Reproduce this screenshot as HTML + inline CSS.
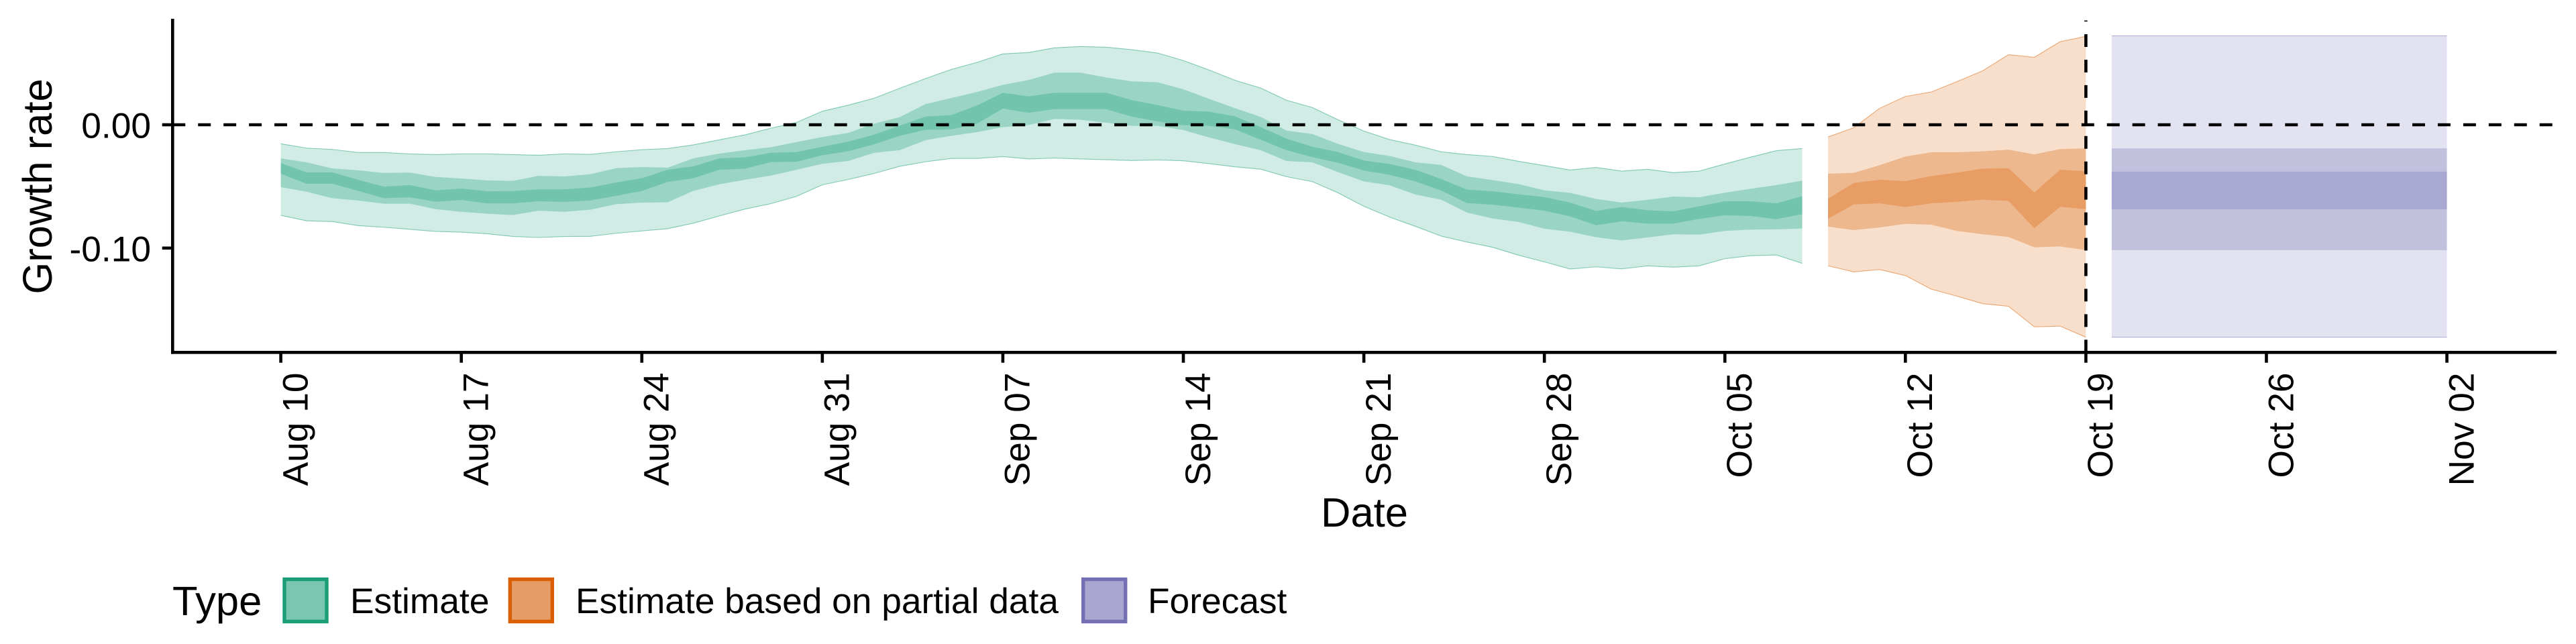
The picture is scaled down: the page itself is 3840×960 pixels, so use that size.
<!DOCTYPE html>
<html lang="en">
<head>
<meta charset="utf-8">
<title>Growth rate estimate and forecast</title>
<style>
html,body{margin:0;padding:0;background:#fff;}
svg{display:block;font-family:"Liberation Sans",sans-serif;}
</style>
</head>
<body>
<svg id="chart" xmlns="http://www.w3.org/2000/svg" width="3840" height="960" viewBox="0 0 3840 960">
  <rect x="0" y="0" width="3840" height="960" fill="#ffffff"/>
  <g id="marks"></g>
  <g id="axes"></g>
  <text transform="translate(77,278) rotate(-90)" text-anchor="middle" font-size="61.5" fill="#000">Growth rate</text>
  <text x="2034" y="785" text-anchor="middle" font-size="61.5" fill="#000">Date</text>
  <g>
    <text x="257" y="917" font-size="61.5" fill="#000">Type</text>
    <g>
      <rect x="424" y="863.5" width="63" height="63" fill="#7AC6AF" stroke="#1B9E77" stroke-width="5.4"/>
      <text x="522" y="914" font-size="53.3" fill="#000">Estimate</text>
    </g>
    <g>
      <rect x="760.3" y="863.5" width="63" height="63" fill="#E69C66" stroke="#D95F02" stroke-width="5.4"/>
      <text x="858" y="914" font-size="53.3" fill="#000">Estimate based on partial data</text>
    </g>
    <g>
      <rect x="1614.7" y="863.5" width="63" height="63" fill="#A9A6CF" stroke="#7570B3" stroke-width="5.4"/>
      <text x="1711" y="914" font-size="53.3" fill="#000">Forecast</text>
    </g>
  </g>
</svg>
<script>
// Day offsets are counted from the first estimate date, Aug 10.
const xTickDays = [0, 7, 14, 21, 28, 35, 42, 49, 56, 63, 70, 77, 84];
const xTickLabels = ["Aug 10", "Aug 17", "Aug 24", "Aug 31", "Sep 07", "Sep 14", "Sep 21", "Sep 28", "Oct 05", "Oct 12", "Oct 19", "Oct 26", "Nov 02"];
const yTickValues = [0, -0.1];
const yTickLabels = ["0.00", "-0.10"];
const referenceRate = 0;
const referenceDay = 70;

const estimateStartDay = 0;
const estimateUpper90 = [-0.0154,-0.0189,-0.0200,-0.0225,-0.0225,-0.0236,-0.0242,-0.0236,-0.0236,-0.0242,-0.0247,-0.0236,-0.0240,-0.0219,-0.0202,-0.0193,-0.0163,-0.0122,-0.0082,-0.0028,0.0019,0.0110,0.0159,0.0215,0.0296,0.0375,0.0449,0.0506,0.0575,0.0586,0.0624,0.0635,0.0629,0.0609,0.0582,0.0521,0.0444,0.0361,0.0298,0.0199,0.0140,0.0041,-0.0051,-0.0120,-0.0165,-0.0219,-0.0242,-0.0257,-0.0296,-0.0331,-0.0367,-0.0346,-0.0376,-0.0361,-0.0388,-0.0376,-0.0318,-0.0262,-0.0210,-0.0193];
const estimateUpper50 = [-0.0273,-0.0305,-0.0354,-0.0369,-0.0391,-0.0388,-0.0423,-0.0436,-0.0451,-0.0455,-0.0414,-0.0419,-0.0401,-0.0352,-0.0343,-0.0348,-0.0272,-0.0234,-0.0206,-0.0182,-0.0140,-0.0099,-0.0066,0.0009,0.0062,0.0167,0.0217,0.0266,0.0324,0.0363,0.0423,0.0423,0.0384,0.0352,0.0345,0.0288,0.0210,0.0135,0.0064,-0.0047,-0.0075,-0.0155,-0.0221,-0.0253,-0.0305,-0.0326,-0.0418,-0.0449,-0.0481,-0.0532,-0.0552,-0.0601,-0.0631,-0.0609,-0.0582,-0.0588,-0.0551,-0.0519,-0.0489,-0.0453];
const estimateUpper20 = [-0.0311,-0.0386,-0.0386,-0.0446,-0.0502,-0.0489,-0.0532,-0.0517,-0.0539,-0.0537,-0.0524,-0.0524,-0.0509,-0.0468,-0.0434,-0.0365,-0.0337,-0.0273,-0.0264,-0.0227,-0.0221,-0.0178,-0.0137,-0.0081,-0.0006,0.0067,0.0079,0.0157,0.0260,0.0230,0.0260,0.0260,0.0260,0.0200,0.0159,0.0114,0.0107,0.0069,-0.0019,-0.0112,-0.0178,-0.0221,-0.0290,-0.0318,-0.0365,-0.0440,-0.0526,-0.0539,-0.0564,-0.0586,-0.0631,-0.0699,-0.0667,-0.0693,-0.0702,-0.0661,-0.0620,-0.0620,-0.0637,-0.0579];
const estimateLower20 = [-0.0397,-0.0479,-0.0479,-0.0536,-0.0596,-0.0588,-0.0624,-0.0610,-0.0637,-0.0637,-0.0620,-0.0625,-0.0614,-0.0577,-0.0537,-0.0463,-0.0434,-0.0365,-0.0356,-0.0303,-0.0300,-0.0247,-0.0215,-0.0159,-0.0090,-0.0041,-0.0037,0.0009,0.0131,0.0097,0.0127,0.0127,0.0127,0.0066,0.0028,-0.0004,-0.0009,-0.0037,-0.0122,-0.0206,-0.0262,-0.0309,-0.0371,-0.0406,-0.0459,-0.0534,-0.0635,-0.0648,-0.0672,-0.0697,-0.0743,-0.0815,-0.0783,-0.0802,-0.0802,-0.0764,-0.0734,-0.0740,-0.0766,-0.0725];
const estimateLower50 = [-0.0506,-0.0543,-0.0596,-0.0614,-0.0640,-0.0640,-0.0684,-0.0706,-0.0721,-0.0732,-0.0697,-0.0706,-0.0689,-0.0644,-0.0631,-0.0629,-0.0536,-0.0483,-0.0446,-0.0412,-0.0365,-0.0316,-0.0294,-0.0228,-0.0206,-0.0125,-0.0090,-0.0060,-0.0019,-0.0002,0.0047,0.0041,0.0017,-0.0009,-0.0009,-0.0043,-0.0103,-0.0157,-0.0206,-0.0294,-0.0305,-0.0384,-0.0459,-0.0491,-0.0566,-0.0607,-0.0712,-0.0760,-0.0788,-0.0843,-0.0867,-0.0912,-0.0938,-0.0914,-0.0888,-0.0891,-0.0861,-0.0850,-0.0848,-0.0841];
const estimateLower90 = [-0.0734,-0.0779,-0.0785,-0.0818,-0.0831,-0.0848,-0.0865,-0.0871,-0.0884,-0.0906,-0.0914,-0.0906,-0.0905,-0.0880,-0.0861,-0.0843,-0.0798,-0.0740,-0.0684,-0.0640,-0.0581,-0.0487,-0.0444,-0.0395,-0.0337,-0.0300,-0.0273,-0.0273,-0.0258,-0.0277,-0.0270,-0.0277,-0.0283,-0.0290,-0.0285,-0.0292,-0.0315,-0.0341,-0.0360,-0.0421,-0.0461,-0.0552,-0.0661,-0.0749,-0.0824,-0.0903,-0.0951,-0.0994,-0.1058,-0.1112,-0.1170,-0.1152,-0.1169,-0.1144,-0.1155,-0.1144,-0.1086,-0.1062,-0.1056,-0.1124];

const partialStartDay = 60;
const partialUpper90 = [-0.0099,-0.0024,0.0133,0.0230,0.0266,0.0350,0.0438,0.0569,0.0547,0.0674,0.0717];
const partialUpper50 = [-0.0397,-0.0390,-0.0328,-0.0258,-0.0223,-0.0223,-0.0215,-0.0202,-0.0240,-0.0197,-0.0191];
const partialUpper20 = [-0.0599,-0.0472,-0.0446,-0.0457,-0.0416,-0.0388,-0.0356,-0.0352,-0.0549,-0.0365,-0.0376];
const partialLower20 = [-0.0762,-0.0646,-0.0637,-0.0667,-0.0637,-0.0625,-0.0607,-0.0618,-0.0839,-0.0665,-0.0684];
const partialLower50 = [-0.0826,-0.0854,-0.0833,-0.0803,-0.0811,-0.0861,-0.0888,-0.0910,-0.0994,-0.0987,-0.1017];
const partialLower90 = [-0.1144,-0.1193,-0.1174,-0.1223,-0.1333,-0.1390,-0.1451,-0.1472,-0.1639,-0.1633,-0.1723];

const forecastStartDay = 71;
const forecastUpper90 = [0.0721,0.0721,0.0721,0.0721,0.0721,0.0721,0.0721,0.0721,0.0721,0.0721,0.0721,0.0721,0.0721,0.0721];
const forecastUpper50 = [-0.0191,-0.0191,-0.0191,-0.0191,-0.0191,-0.0191,-0.0191,-0.0191,-0.0191,-0.0191,-0.0191,-0.0191,-0.0191,-0.0191];
const forecastUpper20 = [-0.0380,-0.0380,-0.0380,-0.0380,-0.0380,-0.0380,-0.0380,-0.0380,-0.0380,-0.0380,-0.0380,-0.0380,-0.0380,-0.0380];
const forecastLower20 = [-0.0685,-0.0685,-0.0685,-0.0685,-0.0685,-0.0685,-0.0685,-0.0685,-0.0685,-0.0685,-0.0685,-0.0685,-0.0685,-0.0685];
const forecastLower50 = [-0.1017,-0.1017,-0.1017,-0.1017,-0.1017,-0.1017,-0.1017,-0.1017,-0.1017,-0.1017,-0.1017,-0.1017,-0.1017,-0.1017];
const forecastLower90 = [-0.1723,-0.1723,-0.1723,-0.1723,-0.1723,-0.1723,-0.1723,-0.1723,-0.1723,-0.1723,-0.1723,-0.1723,-0.1723,-0.1723];

const SVG_NS = "http://www.w3.org/2000/svg";
const xScale = day => 418.6 + day * 38.44;
const yScale = rate => 186 - rate * 1838;
const panel = { left: 257.3, right: 3811, top: 30.5, bottom: 525.3, axisTop: 28 };

function make(tag, attrs, parent) {
  const el = document.createElementNS(SVG_NS, tag);
  for (const key in attrs) el.setAttribute(key, attrs[key]);
  parent.appendChild(el);
  return el;
}

function ribbonPath(startDay, upper, lower) {
  const top = upper.map((v, i) => xScale(startDay + i).toFixed(2) + "," + yScale(v).toFixed(2));
  const bottom = lower.map((v, i) => xScale(startDay + i).toFixed(2) + "," + yScale(v).toFixed(2)).reverse();
  return "M" + top.concat(bottom).join("L") + "Z";
}

function edgePath(startDay, values) {
  return "M" + values.map((v, i) => xScale(startDay + i).toFixed(2) + "," + yScale(v).toFixed(2)).join("L");
}

const marks = document.getElementById("marks");
const axes = document.getElementById("axes");

function drawSeries(prefix, color, startDay, u90, u50, u20, l20, l50, l90) {
  const outer = make("path", { d: ribbonPath(startDay, u90, l90), fill: color, "fill-opacity": 0.2 }, marks);
  
  
  const middle = make("path", { d: ribbonPath(startDay, u50, l50), fill: color, "fill-opacity": 0.3 }, marks);
  
  
  const inner = make("path", { d: ribbonPath(startDay, u20, l20), fill: color, "fill-opacity": 0.3 }, marks);
  
  
  const edgeTop = make("path", { d: edgePath(startDay, u90), fill: "none", stroke: color, "stroke-opacity": 0.5, "stroke-width": 1.1 }, marks);
  
  
  const edgeBottom = make("path", { d: edgePath(startDay, l90), fill: "none", stroke: color, "stroke-opacity": 0.5, "stroke-width": 1.1 }, marks);
  
  
}

drawSeries("estimate", "#1B9E77", estimateStartDay, estimateUpper90, estimateUpper50, estimateUpper20, estimateLower20, estimateLower50, estimateLower90);
drawSeries("partial", "#D95F02", partialStartDay, partialUpper90, partialUpper50, partialUpper20, partialLower20, partialLower50, partialLower90);
drawSeries("forecast", "#7570B3", forecastStartDay, forecastUpper90, forecastUpper50, forecastUpper20, forecastLower20, forecastLower50, forecastLower90);

// Axis lines
const yAxisLine = make("line", { x1: panel.left, x2: panel.left, y1: panel.axisTop, y2: panel.bottom + 2.3, stroke: "#000", "stroke-width": 4.6 }, axes);


const xAxisLine = make("line", { x1: panel.left - 2.3, x2: panel.right, y1: panel.bottom, y2: panel.bottom, stroke: "#000", "stroke-width": 4.6 }, axes);



// Y ticks
yTickValues.forEach((value, i) => {
  const y = yScale(value);
  const tick = make("line", { x1: 241.7, x2: panel.left, y1: y, y2: y, stroke: "#000", "stroke-width": 4.6 }, axes);
  
  
  const label = make("text", { x: 225, y: y + 19.5, "text-anchor": "end", "font-size": 53.3, fill: "#000" }, axes);
  
  
  label.textContent = yTickLabels[i];
});

// X ticks
xTickDays.forEach((day, i) => {
  const x = xScale(day);
  const tick = make("line", { x1: x, x2: x, y1: panel.bottom, y2: 540.7, stroke: "#000", "stroke-width": 4.6 }, axes);
  
  
  const label = make("text", { transform: "translate(" + (x + 39.8).toFixed(2) + ",555.5) rotate(-90)", "text-anchor": "end", "font-size": 53.3, fill: "#000" }, axes);
  
  
  label.textContent = xTickLabels[i];
});

// Reference lines
const zeroLine = make("line", { x1: panel.left, x2: panel.right, y1: yScale(referenceRate), y2: yScale(referenceRate), stroke: "#000", "stroke-width": 4.6, "stroke-dasharray": "18.97 18.97" }, axes);


const todayLine = make("line", { x1: xScale(referenceDay), x2: xScale(referenceDay), y1: panel.bottom, y2: panel.top, stroke: "#000", "stroke-width": 4.6, "stroke-dasharray": "18.97 18.97" }, axes);


</script>
</body>
</html>
